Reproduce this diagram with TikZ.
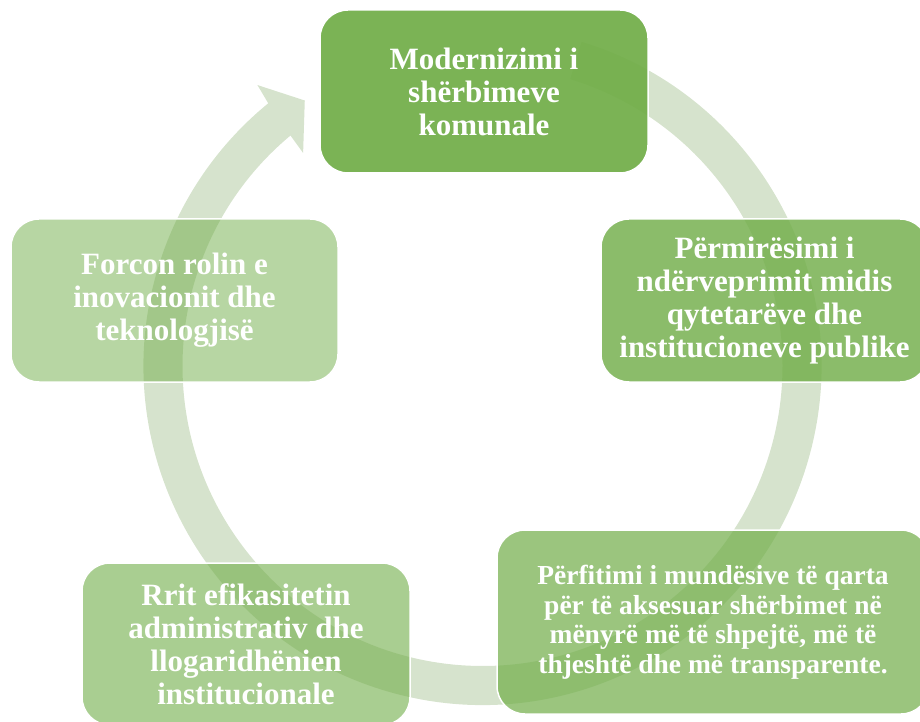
\documentclass[tikz,border=0pt]{standalone}
\usepackage{fontspec}
\setmainfont{Liberation Serif}
\usetikzlibrary{calc}
\definecolor{base}{RGB}{112,173,71}
\definecolor{ringc}{RGB}{214,227,205}
\begin{document}
\begin{tikzpicture}[x=1pt,y=1pt,
  cbox/.style={rectangle, rounded corners=28pt, draw=white, line width=1.5pt,
    fill=base, text=white, text opacity=1, align=center, inner sep=0pt,
    font=\bfseries\fontsize{31}{33}\selectfont},
  smalltext/.style={font=\bfseries\fontsize{27.5}{29.5}\selectfont}]
\useasboundingbox (0,0) rectangle (920,721);
\coordinate (c) at (482.5,355);
% circular arrow
\fill[ringc] ($(c)+(73:339pt)$) arc[start angle=73, end angle=-230.8, radius=339pt]
  -- ($(c)+(-231.3:360pt)$) -- ($(c)+(-236.2:319.5pt)$) -- ($(c)+(-229.9:278.5pt)$)
  -- ($(c)+(-230.2:300pt)$) arc[start angle=-230.2, end angle=73, radius=300pt] -- cycle;
% boxes
\node[cbox, minimum width=328pt, minimum height=163pt, fill opacity=0.92] (b1) at (484,629.5)
  {Modernizimi i\\shërbimeve\\komunale};
\node[cbox, minimum width=327pt, minimum height=163pt, fill opacity=0.81] (b2) at (764.5,420.5)
  {Përmirësimi i\\ndërveprimit midis\\qytetarëve dhe\\institucioneve publike};
\node[cbox, smalltext, minimum width=432pt, minimum height=184pt, fill opacity=0.70] (b3) at (713,99)
  {Përfitimi i mundësive të qarta\\për të aksesuar shërbimet në\\mënyrë më të shpejtë, më të\\thjeshtë dhe më transparente.};
\node[cbox, minimum width=328pt, minimum height=162pt, fill opacity=0.60] (b4) at (246,77)
  {Rrit efikasitetin\\administrativ dhe\\llogaridhënien\\institucionale};
\node[cbox, minimum width=327pt, minimum height=163pt, fill opacity=0.50] (b5) at (174.5,420.5)
  {Forcon rolin e\\inovacionit dhe\\teknologjisë};
\end{tikzpicture}
\end{document}
